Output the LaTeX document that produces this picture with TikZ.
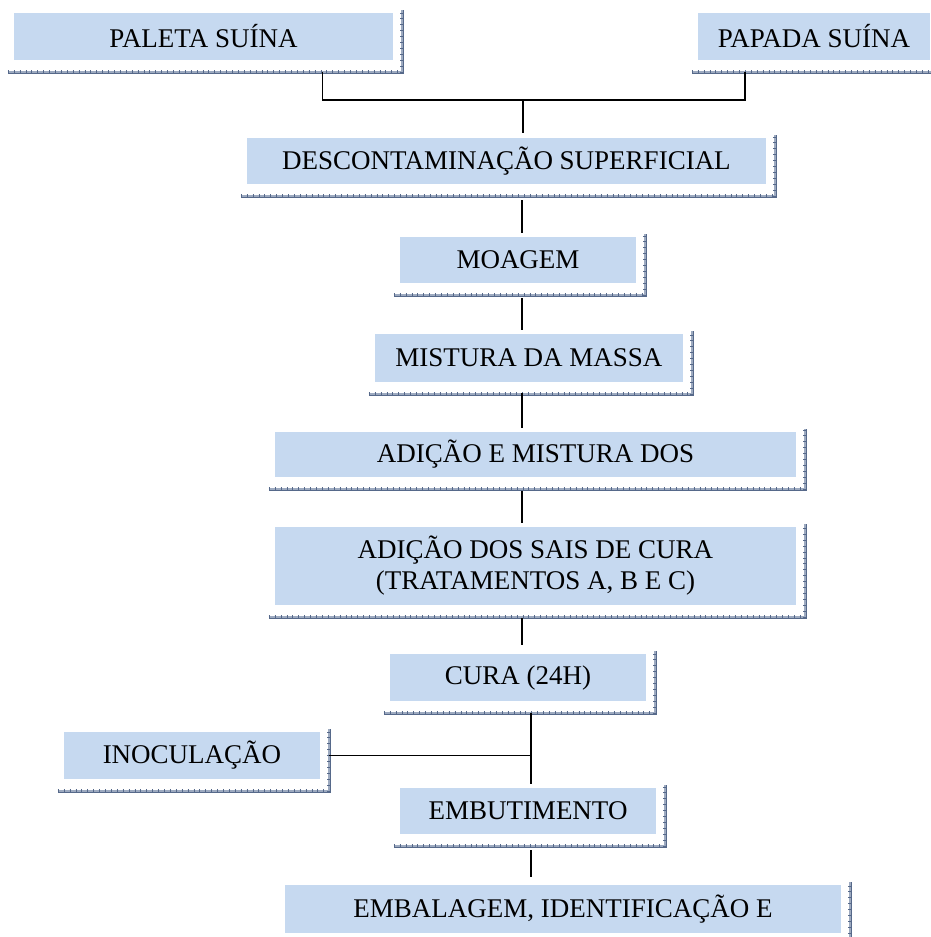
\documentclass[tikz,border=0pt]{standalone}
\usepackage{fontspec}
\setmainfont{Liberation Serif}
\definecolor{boxblue}{HTML}{C6D9F0}
\definecolor{shadowdark}{HTML}{56698A}
\definecolor{shadowmid}{HTML}{9DAAC0}
\tikzset{
  stepbox/.style={fill=boxblue, inner sep=0pt, align=center,
    font=\fontsize{27}{31}\selectfont},
  shadowline/.style={draw=shadowdark, line width=0.8pt, double=shadowmid, double distance=1.6pt},
  shadowtick/.style={draw=shadowdark, line width=3.6pt, dash pattern=on 0.7pt off 5.2pt},
  link/.style={black, line width=1.2pt}
}
\begin{document}
\begin{tikzpicture}[x=1pt, y=-1pt]
  \useasboundingbox (0,0) rectangle (931,937);
  \clip (0,0) rectangle (931,937);

  % etapas
  \node[stepbox, minimum width=379pt, minimum height=47pt] (paleta) at (203.5,36.5) {PALETA SUÍNA};
  \node[stepbox, minimum width=232pt, minimum height=47pt] (papada) at (814,36.5) {PAPADA SUÍNA};
  \node[stepbox, minimum width=519pt, minimum height=46pt] (descont) at (506.5,161) {DESCONTAMINAÇÃO SUPERFICIAL};
  \node[stepbox, minimum width=236pt, minimum height=46pt] (moagem) at (518,260) {MOAGEM};
  \node[stepbox, minimum width=308pt, minimum height=48pt] (mistura) at (529,358) {MISTURA DA MASSA};
  \node[stepbox, minimum width=521pt, minimum height=45pt] (adicao) at (535.5,454.5) {ADIÇÃO E MISTURA DOS};
  \node[stepbox, minimum width=521pt, minimum height=78pt] (sais) at (535.5,566) {ADIÇÃO DOS SAIS DE CURA\\(TRATAMENTOS A, B E C)};
  \node[stepbox, minimum width=256pt, minimum height=47pt] (cura) at (518,677.5) {CURA (24H)};
  \node[stepbox, minimum width=256pt, minimum height=47pt] (inoc) at (192,755.5) {INOCULAÇÃO};
  \node[stepbox, minimum width=256pt, minimum height=46pt] (embut) at (528,811) {EMBUTIMENTO};
  \node[stepbox, minimum width=556pt, minimum height=48pt] (embal) at (563,909) {EMBALAGEM, IDENTIFICAÇÃO E};

  % sombras
  \foreach \n in {paleta,papada,descont,moagem,mistura,adicao,sais,cura,inoc,embut,embal} {
    \draw[shadowline] ([xshift=-6pt,yshift=-12pt]\n.south west) -- ([xshift=9pt,yshift=-12pt]\n.south east) -- ([xshift=9pt,yshift=3pt]\n.north east);
    \draw[shadowtick] ([xshift=-6pt,yshift=-12pt]\n.south west) -- ([xshift=9pt,yshift=-12pt]\n.south east);
    \draw[shadowtick] ([xshift=9pt,yshift=-12pt]\n.south east) -- ([xshift=9pt,yshift=3pt]\n.north east);
  }

  % ligacoes
  \coordinate (trunk) at (522,0);
  \coordinate (trunkb) at (531,0);
  \coordinate (join) at (523,100);
  \draw[link] ([xshift=-70.5pt,yshift=-12pt]paleta.south east) |- (join);
  \draw[link] ([xshift=-69pt,yshift=-12pt]papada.south) |- (join);
  \draw[link] (join) -- ([yshift=5pt]descont.north -| join);
  \draw[link] ([yshift=-16pt]descont.south -| trunk) -- ([yshift=4pt]moagem.north -| trunk);
  \draw[link] ([yshift=-15pt]moagem.south -| trunk) -- ([yshift=4pt]mistura.north -| trunk);
  \draw[link] ([yshift=-11pt]mistura.south -| trunk) -- ([yshift=4pt]adicao.north -| trunk);
  \draw[link] ([yshift=-14pt]adicao.south -| trunk) -- ([yshift=4pt]sais.north -| trunk);
  \draw[link] ([yshift=-13pt]sais.south -| trunk) -- ([yshift=9pt]cura.north -| trunk);
  \draw[link] ([yshift=-12pt]cura.south -| trunkb) -- ([yshift=4pt]embut.north -| trunkb);
  \draw[link] ([xshift=9pt]inoc.east) -- (inoc.east -| trunkb);
  \draw[link] ([yshift=-16pt]embut.south -| trunkb) -- ([yshift=8pt]embal.north -| trunkb);
\end{tikzpicture}
\end{document}
